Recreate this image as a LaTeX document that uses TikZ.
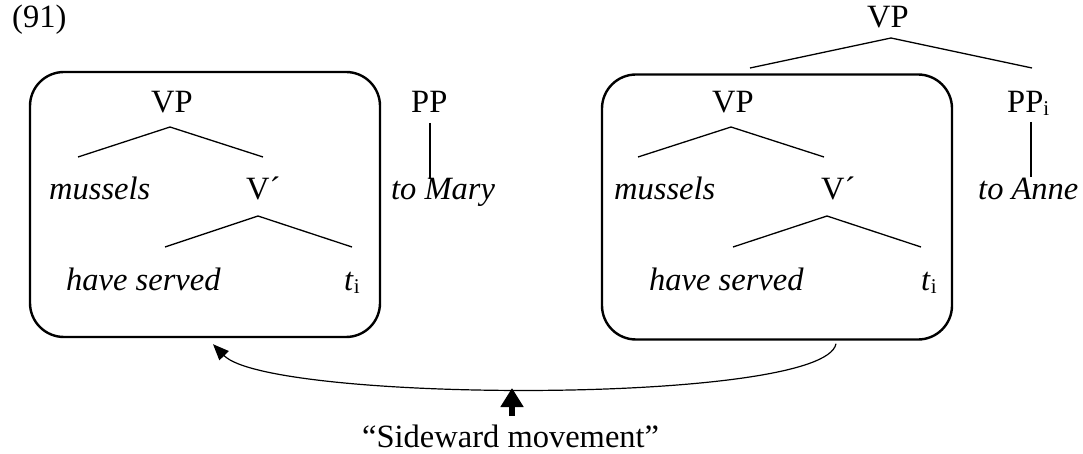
\documentclass[tikz,border=0pt]{standalone}
\usepackage{fontspec}
\setmainfont{Liberation Serif}
\usetikzlibrary{arrows.meta,calc}
\newcommand{\subi}{\raisebox{-3pt}{\fontsize{21}{21}\selectfont i}}
\begin{document}
\begin{tikzpicture}[x=1pt,y=-1pt,
  lbl/.style={inner sep=0pt, anchor=base west, font=\fontsize{32.5}{38}\selectfont},
  box/.style={draw, line width=2.4pt, rounded corners=34pt, inner sep=0pt,
              minimum width=350pt, minimum height=265pt},
  branch/.style={line width=1.3pt},
  move/.style={line width=1.2pt, -{Triangle[length=16pt 0 0,width=13pt 0 0]}},
  point/.style={line width=6.5pt, -{Triangle[length=19pt 0 0,width=22pt 0 0]}}]
\useasboundingbox (0,0) rectangle (1083,454);

% number
\node[lbl] (num) at (12,28) {(91)};

% boxes
\node[box] (boxL) at (205,204.5) {};
\node[box] (boxR) at (777,207) {};

% left tree
\node[lbl] (vpL) at (151,113) {VP};
\node[lbl] (musL) at (49,200) {\textit{mussels}};
\node[lbl] (vbarL) at (246,200) {V´};
\node[lbl] (hsL) at (66,290) {\textit{have served}};
\node[lbl] (tL) at (344,290) {\textit{t}\subi};
\node[lbl] (ppL) at (411,113) {PP};
\node[lbl] (toM) at (391,200) {\textit{to Mary}};

\coordinate (aL1) at (170,127);
\coordinate (lL1) at (78,157);
\coordinate (rL1) at (263,157);
\coordinate (aL2) at (258,216);
\coordinate (lL2) at (165,247);
\coordinate (rL2) at (352,247);
\coordinate (pLt) at (430,123);
\coordinate (pLb) at (430,179);
\draw[branch] (lL1) -- (aL1) -- (rL1);
\draw[branch] (lL2) -- (aL2) -- (rL2);
\draw[branch] (pLt) -- (pLb);

% right tree
\node[lbl] (vpTop) at (867,28) {VP};
\node[lbl] (vpR) at (712,113) {VP};
\node[lbl] (musR) at (614,200) {\textit{mussels}};
\node[lbl] (vbarR) at (821,200) {V´};
\node[lbl] (hsR) at (649,290) {\textit{have served}};
\node[lbl] (tR) at (921,290) {\textit{t}\subi};
\node[lbl] (ppR) at (1007,113) {PP\subi};
\node[lbl] (toA) at (978,200) {\textit{to Anne}};

\coordinate (aT) at (891,38);
\coordinate (lT) at (750,68);
\coordinate (rT) at (1032,68);
\coordinate (aR1) at (731,127);
\coordinate (lR1) at (638,157);
\coordinate (rR1) at (824,157);
\coordinate (aR2) at (827,216);
\coordinate (lR2) at (733,247);
\coordinate (rR2) at (921,247);
\coordinate (pRt) at (1031,122);
\coordinate (pRb) at (1031,177);
\draw[branch] (lT) -- (aT) -- (rT);
\draw[branch] (lR1) -- (aR1) -- (rR1);
\draw[branch] (lR2) -- (aR2) -- (rR2);
\draw[branch] (pRt) -- (pRb);

% movement arrow
\draw[move] ($(boxR.south)+(59,3)$) .. controls (825,405) and (270,403) .. ($(boxL.south)+(8,6)$);

% caption
\node[lbl] (cap) at (362,447) {“Sideward movement”};
\coordinate (hit) at (512,388);
\coordinate (tail) at (512,416);
\draw[point] (tail) -- (hit);
\end{tikzpicture}
\end{document}
